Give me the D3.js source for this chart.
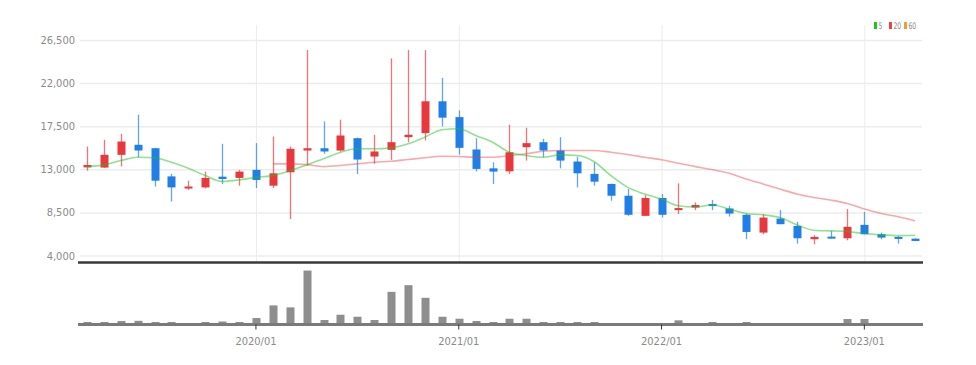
<!DOCTYPE html>
<html>
<head>
<meta charset="utf-8">
<script src="https://cdn.jsdelivr.net/npm/d3@7"></script>
<style>
  body { margin: 0; background: #fff; }
  text { font-family: "Liberation Sans Narrow", "DejaVu Sans Condensed", sans-serif; }
</style>
</head>
<body>
<div id="chart"></div>
<script>
const months = [
  "2019/03","2019/04","2019/05","2019/06","2019/07","2019/08","2019/09","2019/10","2019/11","2019/12",
  "2020/01","2020/02","2020/03","2020/04","2020/05","2020/06","2020/07","2020/08","2020/09","2020/10",
  "2020/11","2020/12","2021/01","2021/02","2021/03","2021/04","2021/05","2021/06","2021/07","2021/08",
  "2021/09","2021/10","2021/11","2021/12","2022/01","2022/02","2022/03","2022/04","2022/05","2022/06",
  "2022/07","2022/08","2022/09","2022/10","2022/11","2022/12","2023/01","2023/02","2023/03","2023/04"
];
const opens = [13200,13180,14510,15560,15200,12260,11100,11110,12230,12100,12940,11290,12690,14960,15200,14960,16250,14330,15030,16360,16780,20100,18450,15070,13100,12790,15310,15830,14960,13810,12520,11470,10240,8140,10000,8740,9010,9370,8910,8250,6390,7860,7090,5700,5970,5800,7200,6220,5940,5760];
const highs = [15380,16080,16700,18700,15250,12520,11800,12750,15660,12940,15730,16430,15380,25450,18000,18180,16300,16610,24580,25450,25450,22550,19160,16250,13730,17660,17340,16190,16360,14330,13730,11500,10940,10310,10420,11530,9540,9790,9190,8380,8320,8740,7510,6120,6570,8850,8560,6390,6040,5780];
const lows = [12860,13150,13300,14260,11200,9640,10850,11000,11470,11290,11050,11050,7800,13390,14610,14860,12520,13570,13990,15830,16010,17480,14540,12790,11470,12520,13910,14260,13100,11110,11290,9720,8140,8140,7960,8320,8740,8740,8070,5700,6220,7250,5240,5170,5780,5590,6200,5700,5240,5500];
const closes = [13450,14510,15900,14960,11810,11110,11200,12100,11990,12760,11890,12580,15140,15200,14860,16530,14020,14860,15830,16610,20100,18390,15240,13040,12760,14780,15730,14960,13910,12580,11710,10240,8250,10000,8250,8950,9270,9190,8380,6460,7960,7270,5800,5940,5800,6990,6220,5870,5760,5520];
const volumes = [20,20,30,32,20,20,3,20,25,20,60,187,167,537,40,93,73,40,323,390,263,73,53,30,20,53,53,20,20,20,20,3,3,3,3,37,3,20,3,20,3,3,3,3,3,50,50,3,3,3];
const ma5 = [13280,13460,13910,14260,14200,13730,13100,12340,11740,11890,12160,12340,12860,13460,14090,14780,15140,15140,15240,15660,16360,17130,17240,16540,15830,14780,14440,14260,14510,14440,13810,12340,11110,10420,9890,9190,9060,9270,8850,8380,8250,7960,7200,6640,6570,6500,6290,6150,6080,6120];
const ma20 = [null,null,null,null,null,null,null,null,null,null,null,13570,13570,13490,13280,13390,13570,13730,13840,14020,14200,14360,14330,14260,14260,14440,14620,14890,14960,14960,14960,14780,14540,14260,13990,13630,13280,12970,12580,11990,11470,10940,10420,10060,9790,9430,8850,8380,8040,7620];
const yTicks = [4000, 8500, 13000, 17500, 22000, 26500];
const xTicks = ["2020/01", "2021/01", "2022/01", "2023/01"];
const legendLabels = ["5", "20", "60"];
const legendColors = ["#22c322", "#f04040", "#f59c2f"];

const width = 976, height = 365;
const left = 80, right = 922;
const upColor = "#e8383d", downColor = "#1f7fe6";

const svg = d3.select("#chart")
  .append("svg")
  .attr("width", width)
  .attr("height", height);

const x = d3.scaleBand()
  .domain(months)
  .range([78.5, 923.5])
  .paddingInner(0.5)
  .paddingOuter(0.25);
const cx = m => x(m) + x.bandwidth() / 2;

const y = d3.scaleLinear().domain([4000, 26500]).range([255.5, 40]);
const yVol = d3.scaleLinear().domain([0, d3.max(volumes) * 1.16]).range([324, 262]);

// vertical grid at January ticks
svg.append("g")
  .selectAll("line")
  .data(xTicks)
  .join("line")
  .attr("x1", d => cx(d) + 0.5).attr("x2", d => cx(d) + 0.5)
  .attr("y1", 25).attr("y2", 261)
  .attr("stroke", "#ececec");

// price axis
const yAxis = svg.append("g")
  .attr("transform", `translate(${left},0)`)
  .call(d3.axisLeft(y).tickValues(yTicks).tickSize(-(right - left)).tickPadding(5).tickFormat(d3.format(",")));
yAxis.select(".domain").remove();
yAxis.selectAll(".tick line").attr("stroke", "#ececec").attr("stroke-width", 1.5);
yAxis.selectAll(".tick text").attr("fill", "#8a8a8a").style("font-size", "11px");

// candles
const candles = svg.append("g")
  .selectAll("g")
  .data(months)
  .join("g");

candles.append("line")
  .attr("x1", (d) => Math.round(cx(d)) + 0.5)
  .attr("x2", (d) => Math.round(cx(d)) + 0.5)
  .attr("y1", (d, i) => y(highs[i]))
  .attr("y2", (d, i) => y(lows[i]))
  .attr("stroke", (d, i) => closes[i] >= opens[i] ? upColor : downColor)
  .attr("stroke-opacity", 0.7)
  .attr("stroke-width", 1.3);

candles.append("rect")
  .attr("x", d => Math.round(cx(d)) - 3.5)
  .attr("width", 8)
  .attr("y", (d, i) => y(Math.max(opens[i], closes[i])))
  .attr("height", (d, i) => Math.max(2, Math.abs(y(opens[i]) - y(closes[i]))))
  .attr("fill", (d, i) => closes[i] >= opens[i] ? upColor : downColor);

// moving averages
const line = d3.line()
  .defined(d => d[1] != null)
  .x(d => cx(d[0]))
  .y(d => y(d[1]))
  .curve(d3.curveMonotoneX);

svg.append("path")
  .attr("d", line(months.map((m, i) => [m, ma20[i]])))
  .attr("fill", "none")
  .attr("stroke", legendColors[1])
  .attr("stroke-opacity", 0.45)
  .attr("stroke-width", 1.6);

svg.append("path")
  .attr("d", line(months.map((m, i) => [m, ma5[i]])))
  .attr("fill", "none")
  .attr("stroke", legendColors[0])
  .attr("stroke-opacity", 0.5)
  .attr("stroke-width", 1.6);

// pane separator
svg.append("line")
  .attr("x1", 78).attr("x2", 923)
  .attr("y1", 262.5).attr("y2", 262.5)
  .attr("stroke", "#3a3a3a")
  .attr("stroke-width", 2.5);

// volume bars
svg.append("g")
  .selectAll("rect")
  .data(months)
  .join("rect")
  .attr("x", d => Math.round(cx(d)) - 3.5)
  .attr("width", 8)
  .attr("y", (d, i) => yVol(volumes[i]))
  .attr("height", (d, i) => yVol(0) - yVol(volumes[i]))
  .attr("fill", "#8e8e8e");

// time axis
const xAxis = svg.append("g")
  .attr("transform", "translate(0,324.5)")
  .call(d3.axisBottom(x).tickValues(xTicks).tickSize(5).tickPadding(8));
xAxis.select(".domain")
  .attr("d", `M78,0H923`)
  .attr("stroke", "#7a7a7a")
  .attr("stroke-width", 3);
xAxis.selectAll(".tick line").attr("stroke", "#333");
xAxis.selectAll(".tick text").attr("fill", "#8a8a8a").style("font-size", "11px");

// legend
const legend = svg.append("g")
  .selectAll("g")
  .data(legendLabels)
  .join("g")
  .attr("transform", (d, i) => `translate(${[874, 889, 904][i]},22)`);
legend.append("rect")
  .attr("width", 3).attr("height", 7)
  .attr("fill", (d, i) => legendColors[i]);
legend.append("text")
  .attr("transform", "translate(4.5,7) scale(0.75,1)")
  .attr("fill", "#8a8a8a")
  .style("font-size", "9px")
  .text(d => d);
</script>
</body>
</html>
